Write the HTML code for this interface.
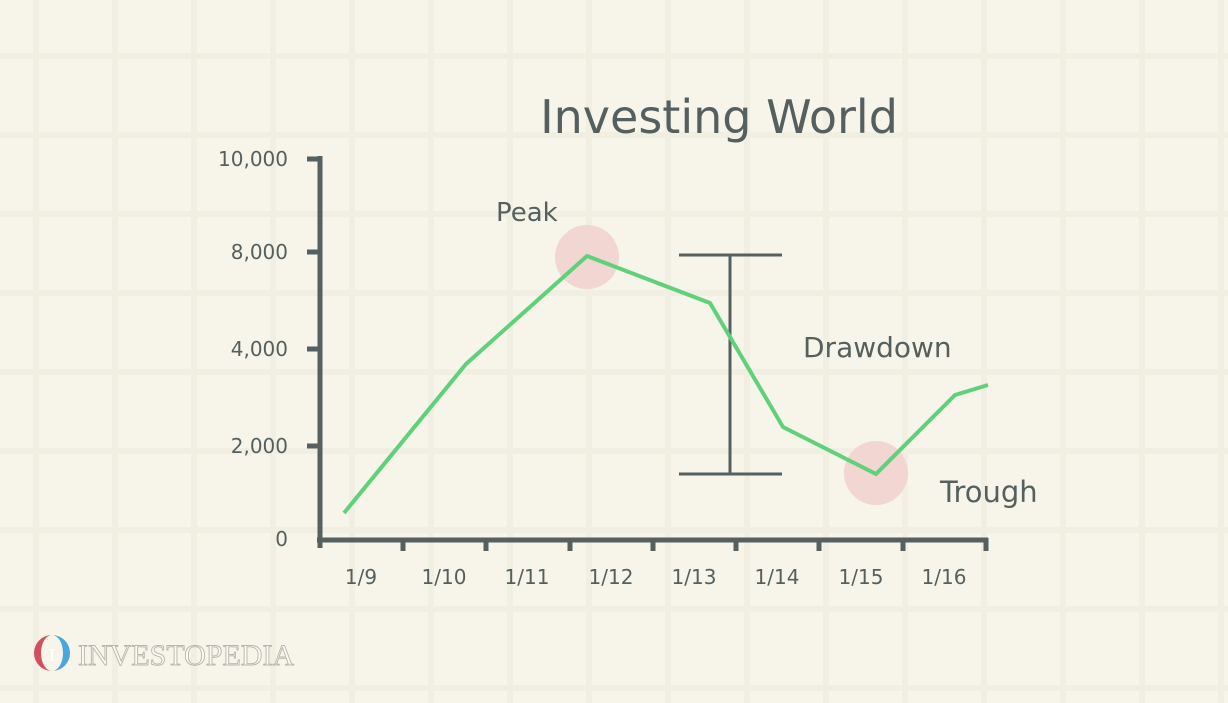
<!DOCTYPE html>
<html><head><meta charset="utf-8"><style>
body{margin:0;width:1228px;height:703px;overflow:hidden;background:#f7f5ea}
svg{display:block}
text{font-family:"DejaVu Sans","Liberation Sans",sans-serif;fill:#55605e}
</style></head><body>
<svg width="1228" height="703" viewBox="0 0 1228 703">
<rect width="1228" height="703" fill="#f7f5ea"/>
<g stroke="#f1eee2" stroke-width="6">
<line x1="36" y1="0" x2="36" y2="703"/><line x1="115" y1="0" x2="115" y2="703"/><line x1="194" y1="0" x2="194" y2="703"/><line x1="273" y1="0" x2="273" y2="703"/><line x1="352" y1="0" x2="352" y2="703"/><line x1="431" y1="0" x2="431" y2="703"/><line x1="510" y1="0" x2="510" y2="703"/><line x1="589" y1="0" x2="589" y2="703"/><line x1="668" y1="0" x2="668" y2="703"/><line x1="747" y1="0" x2="747" y2="703"/><line x1="826" y1="0" x2="826" y2="703"/><line x1="905" y1="0" x2="905" y2="703"/><line x1="984" y1="0" x2="984" y2="703"/><line x1="1063" y1="0" x2="1063" y2="703"/><line x1="1142" y1="0" x2="1142" y2="703"/><line x1="1221" y1="0" x2="1221" y2="703"/>
<line y1="56" x1="0" y2="56" x2="1228"/><line y1="135" x1="0" y2="135" x2="1228"/><line y1="214" x1="0" y2="214" x2="1228"/><line y1="293" x1="0" y2="293" x2="1228"/><line y1="372" x1="0" y2="372" x2="1228"/><line y1="451" x1="0" y2="451" x2="1228"/><line y1="530" x1="0" y2="530" x2="1228"/><line y1="609" x1="0" y2="609" x2="1228"/><line y1="688" x1="0" y2="688" x2="1228"/>
</g>
<text x="719" y="133" font-size="46" text-anchor="middle">Investing World</text>
<g font-size="20" text-anchor="end">
<text x="288" y="166">10,000</text><text x="288" y="259">8,000</text><text x="288" y="356">4,000</text><text x="288" y="453">2,000</text><text x="288" y="546">0</text>
</g>
<g font-size="20" text-anchor="middle">
<text x="361" y="584">1/9</text><text x="444" y="584">1/10</text><text x="527" y="584">1/11</text><text x="611" y="584">1/12</text><text x="694" y="584">1/13</text><text x="777" y="584">1/14</text><text x="861" y="584">1/15</text><text x="944" y="584">1/16</text>
</g>
<text x="496" y="221" font-size="26">Peak</text>
<text x="803" y="357" font-size="28">Drawdown</text>
<text x="940" y="502" font-size="29">Trough</text>
<circle cx="587" cy="257" r="32" fill="#f1d6d1"/>
<circle cx="876" cy="473" r="32" fill="#f1d6d1"/>
<g stroke="#56605e" stroke-width="5" fill="none">
<line x1="320" y1="156" x2="320" y2="548"/>
<line x1="317" y1="540" x2="988" y2="540"/>
<line x1="307" y1="159" x2="320" y2="159"/><line x1="307" y1="252" x2="320" y2="252"/><line x1="307" y1="349" x2="320" y2="349"/><line x1="307" y1="446" x2="320" y2="446"/>
<line x1="403" y1="540" x2="403" y2="551"/><line x1="486" y1="540" x2="486" y2="551"/><line x1="570" y1="540" x2="570" y2="551"/><line x1="653" y1="540" x2="653" y2="551"/><line x1="736" y1="540" x2="736" y2="551"/><line x1="819" y1="540" x2="819" y2="551"/><line x1="903" y1="540" x2="903" y2="551"/><line x1="986" y1="538" x2="986" y2="551"/>
</g>
<g stroke="#56605e" stroke-width="3">
<line x1="730" y1="255" x2="730" y2="474"/><line x1="679" y1="255" x2="782" y2="255"/><line x1="679" y1="474" x2="782" y2="474"/>
</g>
<polyline points="344,513 466,364 587,256 710,303 783,427 876,474 955,395 988,385" fill="none" stroke="#5fd17a" stroke-width="4" stroke-linejoin="round"/>
<path d="M52,635 a18,18 0 0 0 0,36 a11,18 0 0 1 0,-36z" fill="#d2505e"/>
<path d="M52,635 a18,18 0 0 1 0,36 a11,18 0 0 0 0,-36z" fill="#4aa6dc"/>
<text x="52" y="661" font-size="18" text-anchor="middle" style="font-family:'Liberation Serif',serif;fill:#fff">I</text>
<text x="78" y="665" font-size="30" style="font-family:'Liberation Serif',serif;fill:#fbfaf4;stroke:#b8b5aa;stroke-width:0.9">INVESTOPEDIA</text>
</svg>
</body></html>
